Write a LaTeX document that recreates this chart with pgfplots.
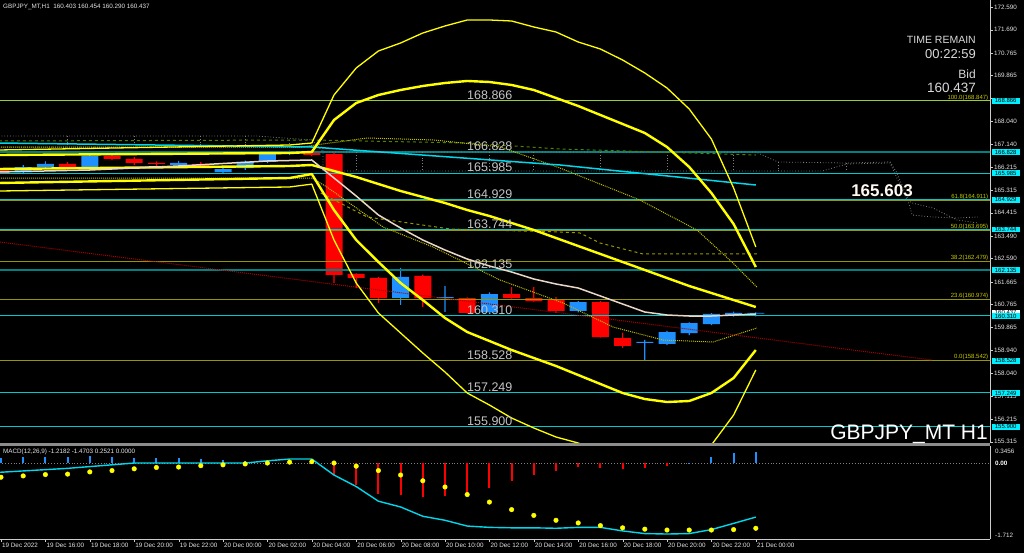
\documentclass[border=0pt]{standalone}
\usepackage{pgfplots}
\pgfplotsset{compat=1.18}
\usepackage{pgfplotstable}
\usepackage{fontspec}
\setmainfont{Liberation Sans}

\definecolor{bullblue}{RGB}{30,144,255}
\definecolor{bearred}{RGB}{255,0,0}
\definecolor{mtyel}{RGB}{255,255,0}
\definecolor{lvlcyan}{RGB}{0,200,205}
\definecolor{lvlteal}{RGB}{0,128,128}
\definecolor{fibline}{RGB}{150,150,0}
\definecolor{fibtxt}{RGB}{200,200,0}
\definecolor{lvlgreen}{RGB}{154,205,50}
\definecolor{tagcyan}{RGB}{0,240,255}
\definecolor{lbl}{RGB}{195,195,195}
\definecolor{mawhite}{RGB}{235,215,200}
\definecolor{macyan}{RGB}{0,215,235}
\definecolor{dkgreen}{RGB}{80,130,0}
\definecolor{dred}{RGB}{170,0,0}
\definecolor{dotyel}{RGB}{190,190,0}

\newcommand\fs[1]{\fontsize{#1}{#1}\selectfont}

% hourly candles, h = hours since 19 Dec 14:00, d = 1 for a rising bar
\pgfplotstableread{
h  o        hi       lo       c        d
0  166.11   166.20   165.95   165.99   0
1  166.03   166.30   165.98   166.23   1
2  166.23   166.45   166.18   166.35   1
3  166.35   166.42   166.10   166.15   0
4  166.15   166.72   166.08   166.67   1
5  166.67   166.75   166.50   166.55   0
6  166.55   166.62   166.30   166.39   0
7  166.39   166.45   166.28   166.35   0
8  166.31   166.47   166.25   166.39   1
9  166.35   166.42   166.20   166.27   0
10 166.03   166.22   165.97   166.15   1
11 166.19   166.48   166.12   166.43   1
12 166.43   166.84   166.38   166.79   1
13 166.75   166.88   166.70   166.83   1
14 166.83   166.90   166.66   166.71   0
15 166.75   166.80   161.62   161.94   0
16 161.98   162.00   161.42   161.82   0
17 161.82   161.85   160.82   161.02   0
18 161.02   162.22   160.75   161.86   1
19 161.90   161.95   160.67   161.02   0
20 161.02   161.50   160.47   161.06   1
21 161.02   161.05   160.40   160.43   0
22 160.45   161.25   160.40   161.18   1
23 161.18   161.46   161.00   161.02   0
24 161.02   161.46   160.88   160.90   0
25 160.94   161.06   160.43   160.51   0
26 160.51   160.90   160.45   160.86   1
27 160.86   160.90   159.45   159.47   0
28 159.43   159.65   159.04   159.12   0
29 159.24   159.36   158.56   159.28   1
30 159.20   159.72   159.15   159.67   1
31 159.63   160.06   159.55   160.03   1
32 159.99   160.42   159.95   160.39   1
33 160.31   160.48   160.28   160.43   1
34 160.403  160.454  160.290  160.437  1
}\candles

\pgfplotsset{
  chartbox/.style={scale only axis, width=990pt, height=443pt,
    at={(0pt,110pt)}, anchor=south west,
    xmin=-0.045, xmax=44.55, ymin=155.261, ymax=172.868},
}
\tikzset{
  lvl/.style={font=\fs{12.5}, text=lbl, anchor=south west, inner sep=0pt, yshift=1pt},
  fib/.style={font=\fs{6}, text=fibtxt, anchor=south east, inner sep=0.5pt},
  tag/.style={fill=tagcyan, text=black, font=\fs{6}, inner xsep=1pt, inner ysep=0.8pt,
    anchor=west, xshift=1.5pt, minimum width=28pt},
}

\begin{document}
\begin{tikzpicture}
\useasboundingbox (0,0) rectangle (1024pt,553pt);
\fill[black] (0,0) rectangle (1024pt,553pt);

% candles: wicks and bodies stacked above the low
\begin{axis}[chartbox, hide axis, ybar stacked]
\addplot[draw=none, fill=none, bar width=17pt] table[x=h, y=lo] {\candles};
\addplot[fill=bearred, draw=none, bar width=1.2pt] table[x=h,
  y expr={(1-\thisrow{d})*(min(\thisrow{o},\thisrow{c})-\thisrow{lo})}] {\candles};
\addplot[fill=bullblue, draw=none, bar width=1.2pt] table[x=h,
  y expr={\thisrow{d}*(min(\thisrow{o},\thisrow{c})-\thisrow{lo})}] {\candles};
\addplot[fill=bearred, draw=none, bar width=17pt] table[x=h,
  y expr={(1-\thisrow{d})*abs(\thisrow{c}-\thisrow{o})}] {\candles};
\addplot[fill=bullblue, draw=none, bar width=17pt] table[x=h,
  y expr={\thisrow{d}*abs(\thisrow{c}-\thisrow{o})}] {\candles};
\addplot[fill=bearred, draw=none, bar width=1.2pt] table[x=h,
  y expr={(1-\thisrow{d})*(\thisrow{hi}-max(\thisrow{o},\thisrow{c}))}] {\candles};
\addplot[fill=bullblue, draw=none, bar width=1.2pt] table[x=h,
  y expr={\thisrow{d}*(\thisrow{hi}-max(\thisrow{o},\thisrow{c}))}] {\candles};
\end{axis}

% levels, channel curves and averages
\begin{axis}[chartbox, hide x axis, axis y line*=right,
  y axis line style={draw=white!80!black, line width=0.8pt},
  ytick={155.315,156.215,157.115,158.040,158.940,159.865,160.765,161.665,162.590,163.490,
         164.415,165.315,166.215,167.140,168.040,168.965,169.865,170.765,171.690,172.590},
  yticklabels={155.315,156.215,157.115,158.040,158.940,159.865,160.765,161.665,162.590,163.490,
         164.415,165.315,166.215,167.140,168.040,,169.865,170.765,171.690,172.590},
  ytick style={draw=white!80!black}, tick align=outside, major tick length=3pt,
  yticklabel style={font=\fs{6.3}, text=white!90!black, inner xsep=1pt},
  no markers, line join=round, unbounded coords=jump]
\pgfplotsinvokeforeach{164.911,163.695,162.479,160.974}{
  \addplot[fibline, line width=1pt] coordinates {(-1,#1) (46,#1)};}
\pgfplotsinvokeforeach{165.985,164.929,163.744,160.310,158.528,157.249,155.900}{
  \addplot[lvlcyan, line width=1pt] coordinates {(-1,#1) (46,#1)};}
\addplot[fibline, line width=1.2pt] coordinates {(-1,158.542) (46,158.542)};
\pgfplotsinvokeforeach{166.828,162.135}{
  \addplot[lvlteal, line width=1.8pt] coordinates {(-1,#1) (46,#1)};}
\addplot[lvlgreen, line width=1.3pt] coordinates {(-1,168.866) (46,168.866)};

% gray dotted cloud band and its projection
\addplot[gray, dotted, line width=0.8pt] coordinates {(-0.1,167.463) (11.5,167.463) (14,167.304)
  (14.5,166.827) (34,166.827) (35,166.429) (38.1,166.389) (40.05,166.429) (40.36,165.992) (40.81,165.038)
  (41.04,164.323) (41.98,164.244) (43.06,164.204) (44,164.244)};
\addplot[gray, dotted, line width=0.8pt] coordinates {(-0.1,167.025) (14.5,167.025) (14.5,166.071)
  (37,166.071) (38.1,166.350) (40.05,166.389) (40.81,164.919) (41.04,164.800) (41.98,164.601)
  (43.06,164.124) (44,164.005)};
\addplot[gray, dotted, line width=0.8pt] coordinates {
  (3,167.463) (3,167.025) (3,nan) (6,167.463) (6,167.025) (6,nan) (9,167.463) (9,167.025) (9,nan)
  (11,167.463) (11,167.025) (11,nan) (13,167.304) (13,167.025) (13,nan)
  (16,166.827) (16,166.071) (16,nan) (19,166.827) (19,166.071) (19,nan)
  (22,166.827) (22,166.071) (22,nan) (24,166.827) (24,166.071) (24,nan)
  (27,166.827) (27,166.071) (27,nan) (30,166.827) (30,166.071) (30,nan)
  (33,166.827) (33,166.071) (33,nan) (35,166.429) (35,166.071) (35,nan)
  (38.1,166.389) (38.1,166.071)};

\addplot[dred, densely dotted, line width=1pt] coordinates {(-0.05,163.249) (41.94,158.559)};
\addplot[dkgreen, dashed, line width=1pt] coordinates {(-0.1,167.264) (14,167.304) (21,167.184)
  (25.2,166.946) (34,166.707)};
\addplot[fibline, dashed, line width=1pt] coordinates {(14.4,165.197) (16.49,164.244) (20.23,163.766)
  (25.18,163.647) (26.08,163.607) (26.98,163.210) (28.92,162.773) (34.05,162.773)};
\addplot[dotyel, densely dotted, line width=1pt] coordinates {(-0.1,167.025) (13.5,167.025) (16.5,167.383)
  (19.5,167.304) (22.5,167.025) (25.18,166.190) (28.78,164.919) (31.35,163.726) (32.97,162.415)
  (34.05,161.461)};
\addplot[dotyel, densely dotted, line width=1pt] coordinates {(-0.1,165.793) (14,165.793) (14.68,165.436)
  (17.21,163.846) (19.46,163.051) (22.48,161.739) (25.32,160.825) (27.57,159.871) (29.82,159.354)
  (32.07,159.275) (34.05,159.831)};
\addplot[macyan, line width=1.5pt] coordinates {(-0.1,167.184) (14,167.025) (25.18,166.310) (34,165.515)};

% regression channel
\addplot[mtyel, line width=1.3pt] coordinates {(-0.1,166.906) (13,167.105) (14,167.184) (15,169.092)
  (16,170.165) (17,170.841) (18,171.159) (19,171.556) (20,171.835) (21,172.073) (22,172.073)
  (23,172.033) (24,171.795) (25,171.596) (26,171.199) (27,170.920) (28,170.483) (29,169.967)
  (30,169.370) (31,168.536) (32,167.343) (33,165.396) (34,163.051)};
\addplot[mtyel, line width=2.4pt] coordinates {(-0.1,166.707) (13,166.787) (14,166.827) (15,168.098)
  (16,168.774) (17,169.092) (18,169.291) (19,169.450) (20,169.569) (21,169.649) (22,169.609)
  (23,169.490) (24,169.291) (25,168.973) (26,168.655) (27,168.297) (28,167.940) (29,167.582)
  (30,167.025) (31,166.231) (32,165.197) (33,163.965) (34,162.256)};
\addplot[mtyel, line width=2.4pt] coordinates {(-0.1,166.151) (13,166.270) (14,166.310) (15,166.071)
  (16,165.833) (17,165.555) (18,165.277) (19,165.038) (20,164.800) (21,164.521) (22,164.283)
  (23,164.005) (24,163.726) (25,163.408) (26,163.090) (27,162.773) (28,162.455) (29,162.137)
  (30,161.819) (31,161.501) (32,161.222) (33,160.944) (34,160.666)};
\addplot[mtyel, line width=2.4pt] coordinates {(-0.1,165.595) (13,165.793) (14,165.950) (15,164.520)
  (16,163.329) (17,162.455) (18,161.620) (19,160.944) (20,160.229) (21,159.672) (22,159.315)
  (23,158.957) (24,158.639) (25,158.321) (26,157.963) (27,157.606) (28,157.248) (29,157.009)
  (30,156.890) (31,156.930) (32,157.248) (33,157.844) (34,158.957)};
\addplot[mtyel, line width=1.3pt] coordinates {(-0.1,165.276) (13,165.436) (14,165.550) (15,163.329)
  (16,161.620) (17,160.428) (18,159.633) (19,158.838) (20,158.082) (21,157.248) (22,156.771)
  (23,156.254) (24,155.857) (25,155.499) (26,155.260) (27,154.903) (28,154.585) (29,154.386)
  (30,154.466) (31,154.664) (32,155.181) (33,156.373) (34,158.162)};
\addplot[mawhite, line width=1.5pt] coordinates {(-0.1,166.032) (4,166.111) (8,166.270) (12,166.469)
  (14,166.509) (15,165.793) (16,165.078) (17,164.323) (18,163.806) (19,163.329) (20,162.931)
  (21,162.574) (22,162.296) (23,162.057) (24,161.779) (25,161.580) (26,161.421) (27,161.103)
  (28,160.785) (29,160.467) (30,160.348) (31,160.308) (32,160.308) (33,160.348) (34,160.388)};
\end{axis}

% texts and price tags
\begin{axis}[chartbox, hide axis, clip=false]
\pgfplotsinvokeforeach{168.866,166.828,165.985,164.929,163.744,162.135,160.310,158.528,157.249,155.900}{
  \node[lvl] at (axis cs:20.99,#1) {#1};}
\node[fib] at (axis cs:44.5,168.847) {100.0(168.847)};
\node[fib] at (axis cs:44.5,164.911) {61.8(164.911)};
\node[fib] at (axis cs:44.5,163.695) {50.0(163.695)};
\node[fib] at (axis cs:44.5,162.479) {38.2(162.479)};
\node[fib] at (axis cs:44.5,160.974) {23.6(160.974)};
\node[fib] at (axis cs:44.5,158.542) {0.0(158.542)};
\node[tag, fill=white] at (axis cs:44.55,160.437) {160.437};
\pgfplotsinvokeforeach{168.866,166.828,165.985,164.929,163.744,162.135,160.310,158.528,157.249,155.900}{
  \node[tag] at (axis cs:44.55,#1) {#1};}
\end{axis}

% MACD window
\begin{axis}[scale only axis, width=990pt, height=93pt, at={(0pt,14pt)}, anchor=south west,
  xmin=-0.045, xmax=44.55, ymin=-1.712, ymax=0.384,
  axis x line*=bottom, axis y line*=right, ytick=\empty,
  axis line style={draw=white!80!black, line width=0.8pt},
  xtick={0,2,...,34},
  xticklabels={19 Dec 2022,19 Dec 16:00,19 Dec 18:00,19 Dec 20:00,19 Dec 22:00,20 Dec 00:00,
    20 Dec 02:00,20 Dec 04:00,20 Dec 06:00,20 Dec 08:00,20 Dec 10:00,20 Dec 12:00,20 Dec 14:00,
    20 Dec 16:00,20 Dec 18:00,20 Dec 20:00,20 Dec 22:00,21 Dec 00:00},
  xtick style={draw=white!80!black}, tick align=outside, major tick length=3pt,
  xticklabel style={anchor=north west, font=\fs{6.3}, text=white!90!black, inner sep=1pt},
  line join=round]
\addplot[gray, dotted, line width=0.9pt] coordinates {(-1,0) (46,0)};
\addplot[ycomb, bullblue, line width=2pt] coordinates {(0,0.11) (1,0.14) (2,0.14) (3,0.14)
  (4,0.15) (5,0.14) (6,0.11) (7,0.11) (8,0.11) (9,0.08) (10,0.06) (11,0.04) (12,0.02) (13,0.01)
  (31,0.01) (32,0.13) (33,0.23) (34,0.2521)};
\addplot[ycomb, bearred, line width=2pt] coordinates {(15,-0.27) (16,-0.50) (17,-0.70) (18,-0.72)
  (19,-0.77) (20,-0.74) (21,-0.70) (22,-0.56) (23,-0.41) (24,-0.26) (25,-0.19) (26,-0.09)
  (27,-0.11) (28,-0.13) (29,-0.11) (30,-0.06)};
\addplot[macyan, line width=1.4pt] coordinates {(-0.1,-0.21) (3,-0.12) (6,0) (11,0) (12,0.05)
  (13,0.09) (14,0.09) (15,-0.27) (16,-0.53) (17,-0.86) (18,-0.99) (19,-1.20) (20,-1.29)
  (21,-1.42) (22,-1.45) (23,-1.46) (24,-1.46) (25,-1.47) (26,-1.45) (27,-1.45) (28,-1.53)
  (29,-1.59) (30,-1.60) (31,-1.59) (32,-1.50) (33,-1.36) (34,-1.2182)};
\addplot[only marks, mark=*, mark size=2.3pt, mark options={draw=mtyel, fill=mtyel}] coordinates {
  (0,-0.32) (1,-0.29) (2,-0.26) (3,-0.25) (4,-0.20) (5,-0.17) (6,-0.13) (7,-0.10) (8,-0.09)
  (9,-0.06) (10,-0.04) (11,-0.02) (12,0.0) (13,0.02) (14,0.03) (15,0.0) (16,-0.07) (17,-0.17)
  (18,-0.27) (19,-0.40) (20,-0.54) (21,-0.71) (22,-0.88) (23,-1.05) (24,-1.18) (25,-1.29)
  (26,-1.35) (27,-1.41) (28,-1.46) (29,-1.49) (30,-1.51) (31,-1.51) (32,-1.51) (33,-1.50)
  (34,-1.4703)};
\end{axis}

% panel separator and free texts
\fill[white!55!black] (0,107pt) rectangle (990pt,110pt);
\node[anchor=west, font=\fs{6.3}, text=white!90!black, inner sep=0pt] at (3pt,546.5pt)
  {GBPJPY\_MT,H1\ \ 160.403 160.454 160.290 160.437};
\node[anchor=east, font=\fs{10.5}, text=white!85!black, inner sep=0pt] at (976pt,513pt) {TIME REMAIN};
\node[anchor=east, font=\fs{13}, text=white!85!black, inner sep=0pt] at (976pt,498.5pt) {00:22:59};
\node[anchor=east, font=\fs{12}, text=white!85!black, inner sep=0pt] at (976pt,479pt) {Bid};
\node[anchor=east, font=\fs{13.5}, text=white!85!black, inner sep=0pt] at (976pt,465.5pt) {160.437};
\node[font=\fs{17}\bfseries, text=white!95!orange, inner sep=0pt] at (882pt,362pt) {165.603};
\node[anchor=base east, font=\fs{21}, text=white, inner sep=0pt] at (988pt,113pt) {GBPJPY\_MT H1};
\node[anchor=west, font=\fs{6.3}, text=white!90!black, inner sep=0pt] at (3pt,101pt)
  {MACD(12,26,9) -1.2182 -1.4703 0.2521 0.0000};
\node[anchor=west, font=\fs{6.3}, text=white!90!black, inner sep=0pt] at (995pt,101.5pt) {0.3456};
\node[anchor=west, font=\fs{6.3}\bfseries, text=white, inner sep=0pt] at (995pt,90pt) {0.00};
\node[anchor=west, font=\fs{6.3}, text=white!90!black, inner sep=0pt] at (995pt,18pt) {-1.712};
\end{tikzpicture}
\end{document}
